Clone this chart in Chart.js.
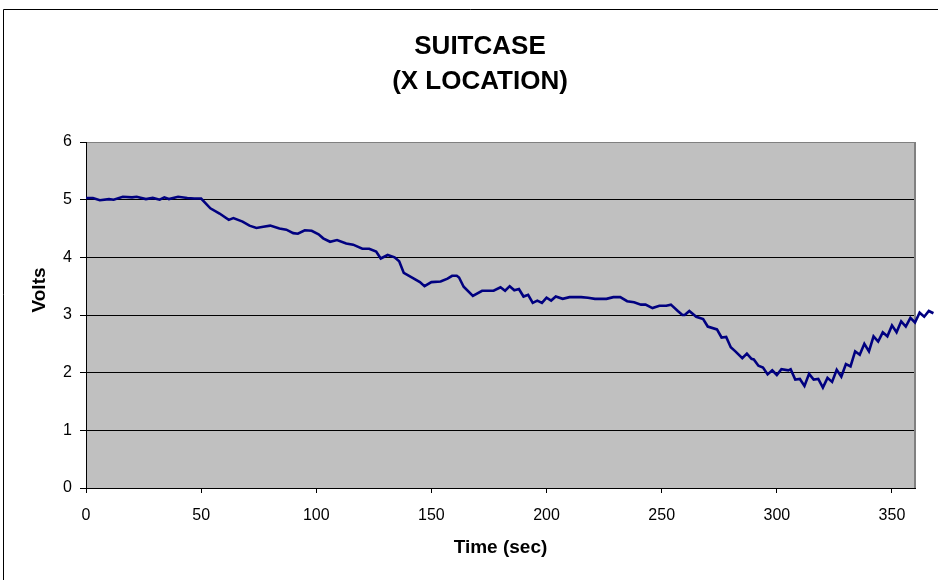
<!DOCTYPE html>
<html>
<head>
<meta charset="utf-8">
<script src="https://cdn.jsdelivr.net/npm/chart.js@4.4.1/dist/chart.umd.min.js"></script>
<style>
  html, body { margin: 0; padding: 0; background: #ffffff; }
  #wrap { width: 938px; height: 580px; }
</style>
</head>
<body>
<div id="wrap"><canvas id="c" width="938" height="580"></canvas></div>
<script>
const titleLines = ['SUITCASE', '(X LOCATION)'];
const xTitle = 'Time (sec)';
const yTitle = 'Volts';

const times = [0, 3, 6, 10, 12, 16, 20, 22, 26, 29, 32, 34, 36, 40, 44, 47, 50, 54, 58, 62, 64, 68, 71,
  74, 77, 80, 84, 87, 90, 92, 95, 98, 101, 103, 106, 109, 113, 116, 120, 123, 126, 128, 131, 134, 136, 138, 142, 145,
  147, 150, 154, 157, 159, 161, 162, 164, 168, 172, 177, 180, 182, 184, 186, 188, 190, 192, 194, 196, 198, 200, 202, 204, 207, 210, 215, 218,
  221, 226, 229, 232, 235, 238, 241, 243, 246, 249, 252, 254, 257, 259, 260, 262, 265, 268, 270, 274, 276, 278, 280, 282, 285, 287, 289, 290, 292, 294,
  296, 298, 300, 302, 305, 306, 308, 310, 312, 314, 316, 318, 320, 322, 324, 326, 328, 330, 332, 334, 336, 338, 340, 342, 344, 346, 348,
  350, 352, 354, 356, 358, 360, 362, 364, 366, 368];

const volts = [5.03, 5.03, 4.99, 5.01, 5.00, 5.05, 5.04, 5.05, 5.01, 5.03, 5.00, 5.04, 5.01, 5.05, 5.03, 5.02, 5.02, 4.85, 4.76, 4.65, 4.68, 4.62, 4.55,
  4.51, 4.53, 4.55, 4.50, 4.48, 4.42, 4.41, 4.47, 4.46, 4.40, 4.33, 4.27, 4.30, 4.24, 4.22, 4.15, 4.15, 4.10, 3.98, 4.04, 4.00, 3.93, 3.73, 3.64, 3.57,
  3.50, 3.57, 3.58, 3.63, 3.68, 3.68, 3.65, 3.49, 3.33, 3.42, 3.42, 3.48, 3.42, 3.50, 3.43, 3.45, 3.32, 3.35, 3.21, 3.25, 3.21, 3.30, 3.25, 3.32, 3.28, 3.31, 3.31, 3.30,
  3.28, 3.28, 3.31, 3.31, 3.24, 3.22, 3.18, 3.18, 3.12, 3.16, 3.16, 3.18, 3.07, 3.00, 3.00, 3.07, 2.97, 2.93, 2.80, 2.75, 2.61, 2.62, 2.44, 2.37, 2.25, 2.33, 2.24, 2.23, 2.12, 2.09,
  1.97, 2.04, 1.96, 2.06, 2.04, 2.06, 1.88, 1.89, 1.77, 1.98, 1.88, 1.89, 1.74, 1.91, 1.84, 2.05, 1.93, 2.15, 2.11, 2.37, 2.31, 2.50, 2.37, 2.63, 2.54, 2.70, 2.63,
  2.82, 2.70, 2.89, 2.80, 2.95, 2.87, 3.04, 2.97, 3.07, 3.03];

const xTicks = [0, 50, 100, 150, 200, 250, 300, 350];
const yTicks = [0, 1, 2, 3, 4, 5, 6];
const xRange = [0, 360];

const FONT = "'Liberation Sans', Arial, Helvetica, sans-serif";
Chart.defaults.font.family = FONT;
Chart.defaults.color = '#000000';

const decor = {
  id: 'decor',
  beforeDraw(chart) {
    const { ctx, chartArea: a } = chart;
    ctx.save();
    ctx.fillStyle = '#ffffff';
    ctx.fillRect(0, 0, chart.width, chart.height);
    ctx.fillStyle = '#c0c0c0';
    ctx.fillRect(a.left, a.top, a.right - a.left, a.bottom - a.top);
    ctx.strokeStyle = '#000000';
    ctx.lineWidth = 1;
    ctx.beginPath();
    ctx.moveTo(3.5, chart.height);
    ctx.lineTo(3.5, 9.5);
    ctx.lineTo(chart.width, 9.5);
    ctx.stroke();
    ctx.restore();
  },
  beforeDatasetsDraw(chart) {
    const { ctx, chartArea: a } = chart;
    ctx.save();
    ctx.strokeStyle = '#808080';
    ctx.lineWidth = 2;
    ctx.beginPath();
    ctx.moveTo(a.right, a.top);
    ctx.lineTo(a.right, a.bottom);
    ctx.stroke();
    ctx.restore();
  },
  afterDraw(chart) {
    const { ctx } = chart;
    ctx.save();
    ctx.fillStyle = '#000000';
    ctx.textAlign = 'center';
    ctx.textBaseline = 'middle';
    ctx.font = 'bold 26px ' + FONT;
    ctx.fillText(titleLines[0], 480, 47);
    ctx.fillText(titleLines[1], 480, 82);
    ctx.translate(40, 290);
    ctx.rotate(-Math.PI / 2);
    ctx.font = 'bold 19px ' + FONT;
    ctx.fillText(yTitle, 0, 0);
    ctx.restore();
  }
};

new Chart(document.getElementById('c'), {
  type: 'line',
  data: {
    datasets: [{
      label: 'X location',
      data: times.map((t, i) => ({ x: t, y: volts[i] })),
      borderColor: '#000080',
      borderWidth: 2.6,
      pointRadius: 0,
      tension: 0,
      fill: false,
      clip: false
    }]
  },
  options: {
    responsive: false,
    animation: false,
    devicePixelRatio: 1,
    layout: { padding: { left: 22, right: 23, top: 142, bottom: 0 } },
    plugins: {
      legend: { display: false },
      tooltip: { enabled: false },
      title: { display: false }
    },
    scales: {
      x: {
        type: 'linear',
        bounds: 'data',
        afterDataLimits: (s) => { s.min = xRange[0]; s.max = xRange[1]; },
        afterBuildTicks: (s) => { s.min = xRange[0]; s.max = xRange[1]; s.ticks = xTicks.map(v => ({ value: v })); },
        afterFit: (s) => { s.height = 92; },
        ticks: { font: { size: 16 }, color: '#000000', padding: 12.5, maxRotation: 0, autoSkip: false },
        grid: { drawOnChartArea: false, drawTicks: true, tickLength: 5, color: '#000000' },
        border: { display: true, color: '#000000', width: 1 },
        title: { display: true, text: xTitle, color: '#000000', font: { size: 19, weight: 'bold' }, padding: { top: 0, bottom: 21 } }
      },
      y: {
        min: 0,
        max: 6,
        afterBuildTicks: (s) => { s.ticks = yTicks.map(v => ({ value: v })); },
        afterFit: (s) => { s.width = 64; },
        ticks: { font: { size: 16 }, color: '#000000', padding: 8 },
        grid: {
          color: (c) => (c.tick && c.tick.value === 6 ? '#808080' : '#000000'),
          tickColor: '#000000',
          tickLength: 6,
          lineWidth: 1
        },
        border: { display: true, color: '#000000', width: 1 }
      }
    }
  },
  plugins: [decor]
});
</script>
</body>
</html>
